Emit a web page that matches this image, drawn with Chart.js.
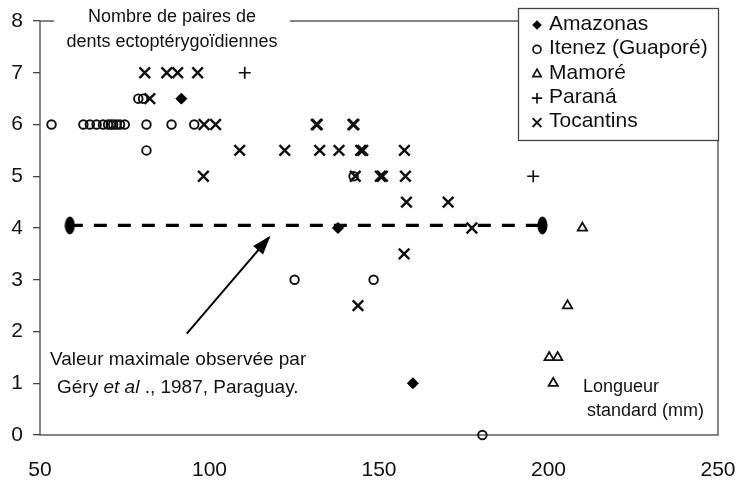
<!DOCTYPE html>
<html>
<head>
<meta charset="utf-8">
<script src="https://cdn.jsdelivr.net/npm/chart.js@4/dist/chart.umd.min.js"></script>
<style>
  body { margin: 0; background: #fff; }
  canvas { display: block; }
</style>
</head>
<body>
<canvas id="chart" width="739" height="481" style="width:739px;height:481px"></canvas>
<script>
const FONT = "'Liberation Sans', Arial, sans-serif";
const INK = '#111';

// values (x = standard length mm, y = pairs of teeth)
const amazonasX = [91.7, 137.9, 160];
const amazonasY = [6.5, 4, 1];

const itenezX = [53.4, 62.8, 64.7, 66.7, 68.6, 70.1, 70.9, 71.6, 72.6, 73.6, 75, 81.4, 88.8, 95.5,
                 79, 80.4, 81.4, 142.5, 125.1, 148.4, 180.5];
const itenezY = [6, 6, 6, 6, 6, 6, 6, 6, 6, 6, 6, 6, 6, 6,
                 6.5, 6.5, 5.5, 5, 3, 3, 0];

const mamoreX = [210, 205.6, 200.2, 202.7, 201.4];
const mamoreY = [4, 2.5, 1.5, 1.5, 1];

const paranaX = [110.4, 195.5];
const paranaY = [7, 5];

const tocantinsX = [80.9, 87.4, 90.6, 96.5, 82.4, 98.4, 101.8, 131.5, 131.8, 142.3, 142.6,
                    108.9, 122.2, 132.5, 138.2, 144.6, 145.2, 157.5, 98.2, 143, 150.4, 151, 157.8,
                    158.1, 170.4, 177.4, 157.4, 143.8];
const tocantinsY = [7, 7, 7, 7, 6.5, 6, 6, 6, 6, 6, 6,
                    5.5, 5.5, 5.5, 5.5, 5.5, 5.5, 5.5, 5, 5, 5, 5, 5,
                    4.5, 4.5, 4, 3.5, 2.5];

// maximum value reported by Géry et al. 1987 (dashed line) and the arrow pointing at it
const refX = [58.8, 198.2];
const refY = [4.05, 4.05];
const arrowX = [93.3, 117.6];
const arrowY = [1.96, 3.82];

const xTicks = [50, 100, 150, 200, 250];
const yTicks = [0, 1, 2, 3, 4, 5, 6, 7, 8];

const legendNames = ['Amazonas', 'Itenez (Guaporé)', 'Mamoré', 'Paraná', 'Tocantins'];

const pts = (xs, ys) => xs.map((x, i) => ({ x, y: ys[i] }));

function ellipseMark(w, h) {
  const c = document.createElement('canvas');
  c.width = w; c.height = h;
  const g = c.getContext('2d');
  g.fillStyle = '#000';
  g.beginPath();
  g.ellipse(w / 2, h / 2, w / 2 - 0.5, h / 2 - 0.5, 0, 0, Math.PI * 2);
  g.fill();
  return c;
}

function drawMark(ctx, style, x, y, r) {
  ctx.save();
  ctx.strokeStyle = INK;
  ctx.fillStyle = '#000';
  ctx.beginPath();
  if (style === 'diamond') {
    ctx.moveTo(x - r, y); ctx.lineTo(x, y - r); ctx.lineTo(x + r, y); ctx.lineTo(x, y + r);
    ctx.closePath(); ctx.fill();
  } else if (style === 'circle') {
    ctx.lineWidth = 1.7;
    ctx.arc(x, y, r, 0, Math.PI * 2); ctx.stroke();
  } else if (style === 'triangle') {
    ctx.lineWidth = 1.7;
    ctx.moveTo(x, y - r); ctx.lineTo(x + r * 0.9, y + r * 0.6); ctx.lineTo(x - r * 0.9, y + r * 0.6);
    ctx.closePath(); ctx.stroke();
  } else if (style === 'plus') {
    ctx.lineWidth = 1.7;
    ctx.moveTo(x - r, y); ctx.lineTo(x + r, y); ctx.moveTo(x, y - r); ctx.lineTo(x, y + r);
    ctx.stroke();
  } else if (style === 'x') {
    ctx.lineWidth = 1.9;
    ctx.moveTo(x - r, y - r); ctx.lineTo(x + r, y + r); ctx.moveTo(x + r, y - r); ctx.lineTo(x - r, y + r);
    ctx.stroke();
  }
  ctx.restore();
}

const frame = {
  id: 'frame',
  beforeDatasetsDraw(chart) {
    const { ctx, chartArea: a } = chart;
    ctx.save();
    ctx.strokeStyle = '#444';
    ctx.lineWidth = 1.3;
    ctx.strokeRect(a.left, a.top, a.right - a.left, a.bottom - a.top);
    ctx.restore();
  },
  afterDatasetsDraw(chart) {
    const { ctx, scales } = chart;
    ctx.save();

    // arrow head
    const x0 = scales.x.getPixelForValue(arrowX[0]), y0 = scales.y.getPixelForValue(arrowY[0]);
    const x1 = scales.x.getPixelForValue(arrowX[1]), y1 = scales.y.getPixelForValue(arrowY[1]);
    const ang = Math.atan2(y1 - y0, x1 - x0);
    ctx.fillStyle = '#000';
    ctx.beginPath();
    ctx.moveTo(x1 + 2 * Math.cos(ang), y1 + 2 * Math.sin(ang));
    ctx.lineTo(x1 - 17 * Math.cos(ang) + 6.5 * Math.sin(ang), y1 - 17 * Math.sin(ang) - 6.5 * Math.cos(ang));
    ctx.lineTo(x1 - 17 * Math.cos(ang) - 6.5 * Math.sin(ang), y1 - 17 * Math.sin(ang) + 6.5 * Math.cos(ang));
    ctx.closePath();
    ctx.fill();

    // y-axis title sitting on the top border
    ctx.fillStyle = '#fff';
    ctx.fillRect(54, 0, 236, 56);
    ctx.fillStyle = INK;
    ctx.font = '18px ' + FONT;
    ctx.textAlign = 'center';
    ctx.textBaseline = 'middle';
    ctx.fillText('Nombre de paires de', 172, 17);
    ctx.fillText('dents ectoptérygoïdiennes', 172, 42);

    // annotation
    ctx.font = '19px ' + FONT;
    ctx.textAlign = 'left';
    ctx.fillText('Valeur maximale observée par', 50, 360);
    let tx = 57;
    const ty = 388;
    ctx.fillText('Géry ', tx, ty); tx += ctx.measureText('Géry ').width;
    ctx.font = 'italic 19px ' + FONT;
    ctx.fillText('et al', tx, ty); tx += ctx.measureText('et al').width;
    ctx.font = '19px ' + FONT;
    ctx.fillText(' ., 1987, Paraguay.', tx, ty);

    // x-axis title
    ctx.font = '18px ' + FONT;
    ctx.fillText('Longueur', 583, 387);
    ctx.fillText('standard (mm)', 587, 411);

    // legend
    ctx.fillStyle = '#fff';
    ctx.fillRect(518.5, 8.5, 200, 132);
    ctx.strokeStyle = '#444';
    ctx.lineWidth = 1.3;
    ctx.strokeRect(518.5, 8.5, 200, 132);
    const styles = ['diamond', 'circle', 'triangle', 'plus', 'x'];
    const sizes = [4.8, 4, 4.6, 5.2, 4.4];
    ctx.font = '21px ' + FONT;
    legendNames.forEach((name, i) => {
      const ly = 24 + i * 24.4;
      drawMark(ctx, styles[i], 537, ly + 1, sizes[i]);
      ctx.fillStyle = INK;
      ctx.fillText(name, 549, ly);
    });
    ctx.restore();
  }
};

const open = 'rgba(0,0,0,0)';

new Chart(document.getElementById('chart'), {
  type: 'scatter',
  data: {
    datasets: [
      { label: 'ref', data: pts(refX, refY), showLine: true, borderColor: '#000', borderWidth: 3.2,
        borderDash: [13, 11], pointStyle: ellipseMark(11, 19), pointRadius: 5, clip: false },
      { label: 'arrow', data: pts(arrowX, arrowY), showLine: true, borderColor: '#000', borderWidth: 2,
        pointRadius: 0, clip: false },
      { label: legendNames[0], data: pts(amazonasX, amazonasY), pointStyle: 'rectRot', pointRadius: 5.5,
        backgroundColor: '#000', borderColor: '#000', borderWidth: 1, clip: false },
      { label: legendNames[1], data: pts(itenezX, itenezY), pointStyle: 'circle', pointRadius: 4.3,
        backgroundColor: open, borderColor: INK, borderWidth: 1.9, clip: false },
      { label: legendNames[2], data: pts(mamoreX, mamoreY), pointStyle: 'triangle', pointRadius: 5.4,
        backgroundColor: open, borderColor: INK, borderWidth: 1.8, clip: false },
      { label: legendNames[3], data: pts(paranaX, paranaY), pointStyle: 'cross', pointRadius: 6,
        backgroundColor: open, borderColor: INK, borderWidth: 1.7, clip: false },
      { label: legendNames[4], data: pts(tocantinsX, tocantinsY), pointStyle: 'crossRot', pointRadius: 7.5,
        backgroundColor: open, borderColor: INK, borderWidth: 2.4, clip: false }
    ]
  },
  options: {
    responsive: false,
    animation: false,
    events: [],
    layout: { padding: { top: 21, right: 21, left: 0, bottom: 0 } },
    plugins: { legend: { display: false }, tooltip: { enabled: false } },
    scales: {
      x: {
        type: 'linear', min: xTicks[0], max: xTicks[xTicks.length - 1],
        afterBuildTicks: s => { s.ticks = xTicks.map(v => ({ value: v })); },
        afterFit: s => { s.height = 46; s.paddingLeft = 0; s.paddingRight = 0; },
        ticks: { color: INK, font: { family: FONT, size: 21 }, padding: 15, maxRotation: 0 },
        grid: { display: false },
        border: { display: false }
      },
      y: {
        min: yTicks[0], max: yTicks[yTicks.length - 1],
        afterBuildTicks: s => { s.ticks = yTicks.map(v => ({ value: v })); },
        afterFit: s => { s.width = 40; s.paddingTop = 0; s.paddingBottom = 0; },
        ticks: { color: INK, font: { family: FONT, size: 21 }, padding: 10 },
        grid: { drawOnChartArea: false, tickLength: 7, color: '#444', lineWidth: 1.3 },
        border: { display: false }
      }
    }
  },
  plugins: [frame]
});
</script>
</body>
</html>
